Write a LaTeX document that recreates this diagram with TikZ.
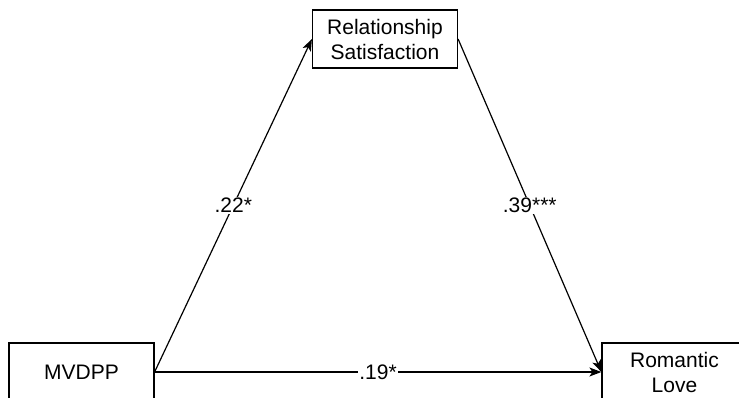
\documentclass[tikz,border=0pt]{standalone}
\usepackage{fontspec}
\setmainfont{Liberation Sans}
\usetikzlibrary{arrows.meta}

\begin{document}
\begin{tikzpicture}[x=1pt, y=-1pt]
    % Define styles
    \tikzset{
        varBox/.style={draw, line width=1.2pt, minimum width=145pt, minimum height=58pt,
            inner sep=0pt, align=center, font=\fontsize{21}{25}\selectfont},
        pathArrow/.style={line width=1.2pt, -{Stealth[length=12pt, width=9pt, inset=3pt]}},
        coefLabel/.style={fill=white, inner sep=1.5pt, font=\fontsize{21}{25}\selectfont}
    }

    % Fix picture size
    \useasboundingbox (0,0) rectangle (739,398);
    \clip (0,0) rectangle (739,398);

    % Draw variables
    \node[varBox] (mvdpp) at (81.5,372) {MVDPP};
    \node[varBox] (satisfaction) at (385,39) {Relationship\\Satisfaction};
    \node[varBox] (love) at (674.5,372) {Romantic\\Love};

    % Draw paths with coefficients
    \draw[pathArrow] (mvdpp.east) -- (satisfaction.west) node[coefLabel, midway] {.22*};
    \draw[pathArrow] (satisfaction.east) -- (love.west) node[coefLabel, midway] {.39***};
    \draw[pathArrow] (mvdpp.east) -- (love.west) node[coefLabel, midway] {.19*};

\end{tikzpicture}
\end{document}
